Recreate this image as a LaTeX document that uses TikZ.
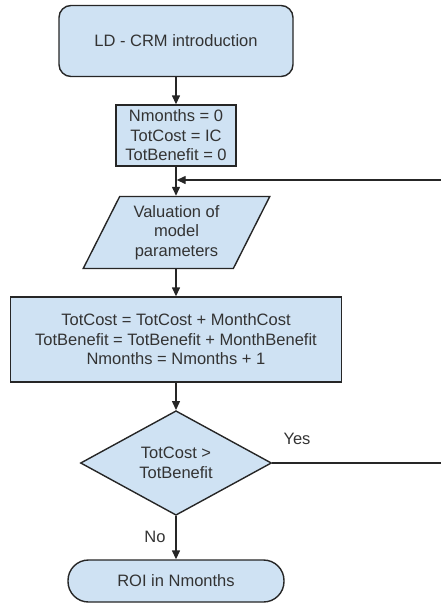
\documentclass[tikz,border=0pt]{standalone}
\usepackage{fontspec}
\setmainfont{Liberation Sans}
\usetikzlibrary{arrows.meta,shapes.geometric}

\definecolor{boxfill}{HTML}{CFE2F3}
\definecolor{ink}{HTML}{262626}
\definecolor{txt}{HTML}{333333}

\tikzset{
  base/.style={draw=ink, fill=boxfill, line width=1.4pt, text=txt,
    font=\fontsize{16.5}{19.5}\selectfont, align=center, inner sep=0pt},
  startbox/.style={base, rectangle, rounded corners=12pt},
  procbox/.style={base, rectangle},
  iobox/.style={base, trapezium, trapezium left angle=63.1,
    trapezium right angle=116.9},
  decbox/.style={base, diamond},
  endbox/.style={base, rectangle, rounded corners=20.5pt},
  flow/.style={draw=ink, line width=1.4pt,
    -{Triangle[length=9pt,width=8pt]}},
  lbl/.style={text=txt, font=\fontsize{16.5}{19.5}\selectfont, inner sep=0pt}
}

\begin{document}
\begin{tikzpicture}[x=1pt, y=-1pt]
  \useasboundingbox (0,0) rectangle (441,603);
  \clip (0,0) rectangle (441,603);

  % steps of the flow
  \node[startbox, minimum width=234pt, minimum height=71pt] (intro) at (176,41)
    {LD - CRM introduction};
  \node[procbox, minimum width=120pt, minimum height=61pt] (init) at (176,135.5)
    {Nmonths = 0\\TotCost = IC\\TotBenefit = 0};
  \node[iobox, minimum width=187pt, minimum height=69pt] (val) at (176.5,232.5)
    {Valuation of\\model\\parameters};
  \node[procbox, minimum width=331pt, minimum height=85pt] (upd) at (176,339.5)
    {TotCost = TotCost + MonthCost\\TotBenefit = TotBenefit + MonthBenefit\\Nmonths = Nmonths + 1};
  \node[decbox, minimum width=191pt, minimum height=104pt] (dec) at (176,463)
    {TotCost >\\TotBenefit};
  \node[endbox, minimum width=216pt, minimum height=42pt] (roi) at (176,581)
    {ROI in Nmonths};

  % loop-back route
  \coordinate (join) at (176,180);
  \coordinate (loopA) at (452,463);
  \coordinate (loopB) at (452,180);

  % connectors
  \draw[flow] (intro.south) -- (init.north);
  \draw[flow] (init.south) -- (val.north -| init.south);
  \draw[flow] (val.south -| init.south) -- (upd.north);
  \draw[flow] (upd.south) -- (dec.north);
  \draw[flow] (dec.south) -- (roi.north);
  \draw[flow] (dec.east) -- (loopA) -- (loopB) -- ([xshift=0.7pt]join);

  % branch labels
  \node[lbl] (yes) at (297,439) {Yes};
  \node[lbl] (no) at (155,537) {No};
\end{tikzpicture}
\end{document}
